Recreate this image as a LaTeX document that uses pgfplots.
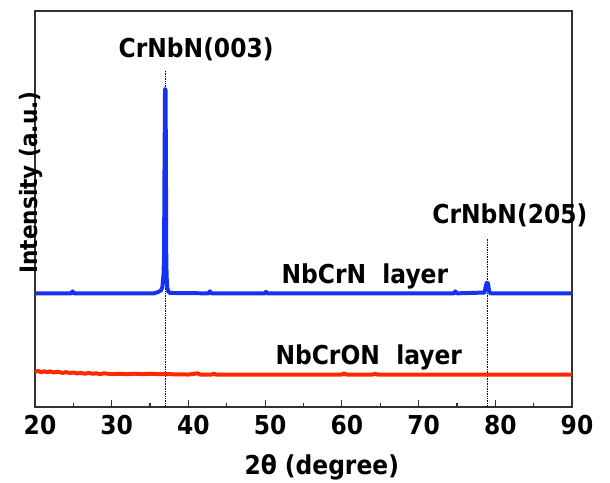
\documentclass[border=0pt]{standalone}
\usepackage{pgfplots}
\pgfplotsset{compat=1.18}
\usetikzlibrary{calc}
\usepackage{fontspec}
\setmainfont{DejaVu Sans}
\newfontfamily\fbfont{DejaVu Sans Condensed}
\definecolor{xblue}{RGB}{20,50,240}
\definecolor{xred}{RGB}{255,40,0}
\definecolor{axgray}{RGB}{50,50,50}
\newcommand{\bigf}{\fbfont\bfseries\fontsize{26bp}{30bp}\selectfont}
\newcommand{\ylf}{\fbfont\bfseries\fontsize{24bp}{28bp}\selectfont}
\begin{document}
\begin{tikzpicture}
\begin{axis}[
  scale only axis,
  width=537bp, height=396bp,
  xmin=20, xmax=90, ymin=0, ymax=100,
  xtick={20,30,...,90},
  minor x tick num=1,
  ytick=\empty,
  tick pos=bottom,
  major tick length=7bp, minor tick length=4bp,
  tick style={axgray, line width=1.2pt},
  axis line style={axgray, line width=1.5pt},
  /pgf/number format/assume math mode=true,
  tick label style={font=\bigf},
  xticklabel style={xshift=5bp, yshift=-5bp},
  xlabel={2θ (degree)},
  ylabel={Intensity (a.u.)},
  xlabel style={font=\bigf, at={(axis description cs:0.534,0)}, anchor=center, yshift=-60bp},
  ylabel style={font=\ylf, at={(axis description cs:-0.008,0.567)}, anchor=center},
  clip=false,
]
\addplot[black, densely dotted, line width=0.7pt] coordinates {(37.0,0)(37.0,84.8)};
\addplot[black, densely dotted, line width=0.7pt] coordinates {(79.0,0)(79.0,42.5)};
\addplot[xred, line width=4pt, line join=round] coordinates {
(20,8.9)(20.4,9.1)(20.8,8.8)(21.2,9.0)(21.6,8.8)(22,9.0)(22.4,8.7)(22.8,8.9)(23.2,8.8)(23.6,8.6)(24,8.8)(24.5,8.6)(25,8.7)(25.5,8.5)(26,8.6)(26.5,8.4)(27,8.6)(27.5,8.4)(28,8.5)(28.5,8.3)(29,8.5)(29.5,8.4)(30,8.3)(31,8.4)(32,8.3)(33,8.4)(34,8.3)(35,8.4)(36,8.3)(37,8.3)(40,8.2)(41.2,8.5)(41.5,8.2)(43,8.2)(43.3,8.4)(43.6,8.2)(60,8.2)(60.3,8.5)(60.6,8.2)(64,8.2)(64.3,8.4)(64.6,8.2)(90,8.2)};
\addplot[xblue, line width=4pt, line join=round] coordinates {
(20,28.7)(24.7,28.7)(24.9,29.2)(25.1,28.7)(35.5,28.7)(36.0,29.0)(36.4,29.4)(36.6,30.2)(36.75,33.5)(36.82,38)(36.88,60)(36.95,80.3)(37.02,80.0)(37.07,60)(37.1,40)(37.15,33.5)(37.22,30.5)(37.35,29.2)(37.6,28.8)(42.6,28.7)(42.8,29.2)(43.0,28.7)(50.0,28.7)(50.1,29.1)(50.3,28.7)(74.6,28.7)(74.8,29.2)(75.0,28.7)(78.6,28.9)(78.75,30.5)(78.9,31.4)(79.05,31.2)(79.2,29.2)(79.4,28.7)(90,28.7)};
\node[font=\bigf, anchor=center] at (axis cs:41.0,90.2) {CrNbN(003)};
\node[font=\bigf, anchor=center] at (axis cs:81.9,48.5) {CrNbN(205)};
\node[font=\bigf, anchor=center] at (axis cs:63.0,33.0) {NbCrN\ \ layer};
\node[font=\bigf, anchor=center] at (axis cs:63.5,12.5) {NbCrON\ \ layer};
\end{axis}
\pgfresetboundingbox
\useasboundingbox ($(current axis.south west)+(-35bp,-76bp)$) rectangle ($(current axis.north east)+(38bp,11bp)$);
\end{tikzpicture}
\end{document}
